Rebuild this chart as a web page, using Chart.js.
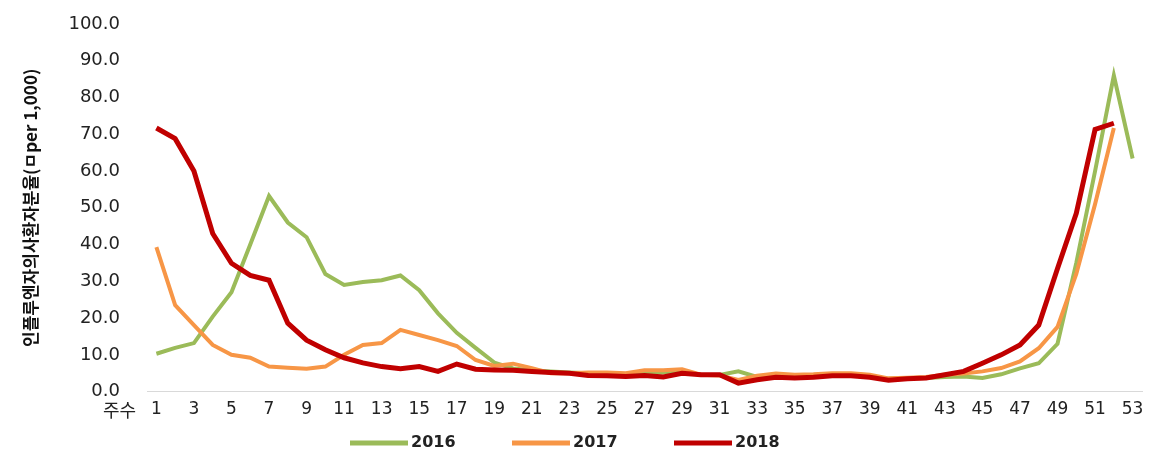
<!DOCTYPE html>
<html>
<head>
<meta charset="utf-8">
<script src="https://cdn.jsdelivr.net/npm/chart.js@4"></script>
<style>
	html, body { margin: 0; padding: 0; background: #fff; }
	#wrap { width: 1164px; height: 453px; }
</style>
</head>
<body>
<div id="wrap"><canvas id="fluChart" width="1164" height="453"></canvas></div>
<script>
// weeks 1..53
const weeks = [];
for (let w = 1; w <= 53; w++) weeks.push(w);

const y2016 = [10.3, 11.9, 13.2, 20.4, 27.0, 40.0, 53.2, 46.0, 42.0, 32.0,
	29.0, 29.8, 30.3, 31.6, 27.6, 21.3, 16.0, 11.9, 7.9, 6.3,
	5.8, 5.5, 5.2, 5.0, 4.9, 4.8, 5.0, 5.2, 5.4, 4.6,
	4.5, 5.5, 4.0, 4.4, 4.2, 4.3, 4.5, 4.4, 4.0, 3.5,
	3.6, 3.7, 4.0, 4.1, 3.7, 4.7, 6.3, 7.7, 13.0, 35.0,
	60.0, 86.0, 63.4];

const y2017 = [39.3, 23.5, 18.1, 12.7, 10.0, 9.2, 6.8, 6.5, 6.2, 6.8,
	10.0, 12.7, 13.2, 16.8, 15.4, 14.0, 12.4, 8.6, 7.0, 7.6,
	6.4, 5.0, 5.0, 5.2, 5.2, 5.0, 5.8, 5.8, 6.1, 4.6,
	4.4, 3.2, 4.3, 4.9, 4.6, 4.7, 5.0, 5.0, 4.6, 3.6,
	3.8, 4.0, 4.6, 4.9, 5.5, 6.4, 8.2, 11.8, 17.6, 32.0,
	51.0, 71.7];

const y2018 = [71.7, 68.8, 60.0, 43.0, 34.9, 31.6, 30.3, 18.6, 14.0, 11.4,
	9.2, 7.8, 6.8, 6.2, 6.8, 5.5, 7.5, 6.1, 5.9, 5.8,
	5.5, 5.2, 5.0, 4.4, 4.3, 4.1, 4.4, 4.0, 5.0, 4.6,
	4.6, 2.3, 3.2, 3.9, 3.7, 3.9, 4.3, 4.3, 3.9, 3.1,
	3.5, 3.7, 4.6, 5.5, 7.7, 10.0, 12.7, 18.1, 33.5, 48.5,
	71.3, 73.0];

const seriesNames = ['2016', '2017', '2018'];
const seriesColors = ['#9bbb59', '#f79646', '#c00000'];

const fontKR = '"Noto Sans CJK KR", "Noto Sans", sans-serif';
const fontNum = '"DejaVu Sans", sans-serif';

// "주수" sits to the left of the first week label
const weekTitle = {
	id: 'weekTitle',
	afterDraw(chart) {
		let ctx = chart.ctx;
		let xs = chart.scales.x;
		ctx.save();
		ctx.font = '18px ' + fontKR;
		ctx.fillStyle = '#222';
		ctx.textAlign = 'right';
		ctx.textBaseline = 'middle';
		ctx.fillText('주수', xs.left - 11, xs.top + 19);
		ctx.restore();
	}
};

// legend row under the axis: long line swatch, bold year right next to it
const lineLegend = {
	id: 'lineLegend',
	afterDraw(chart) {
		let ctx = chart.ctx;
		let x = 350;
		let y = 443;
		ctx.save();
		ctx.font = 'bold 16px ' + fontNum;
		ctx.textBaseline = 'middle';
		ctx.textAlign = 'left';
		chart.data.datasets.forEach(function(ds) {
			ctx.strokeStyle = ds.borderColor;
			ctx.lineWidth = 5;
			ctx.beginPath();
			ctx.moveTo(x, y);
			ctx.lineTo(x + 58, y);
			ctx.stroke();
			ctx.fillStyle = '#222';
			ctx.fillText(ds.label, x + 61, y);
			x += 162;
		});
		ctx.restore();
	}
};

function makeSet(i, values, width, order)
{
	return {
		label: seriesNames[i],
		data: values,
		borderColor: seriesColors[i],
		backgroundColor: seriesColors[i],
		borderWidth: width,
		pointRadius: 0,
		tension: 0,
		fill: false,
		order: order,
	};
}

let ctx = document.getElementById('fluChart').getContext('2d');
new Chart(ctx, {
	type: 'line',
	data: {
		labels: weeks,
		datasets: [
			makeSet(0, y2016, 4, 3),
			makeSet(1, y2017, 4, 2),
			makeSet(2, y2018, 5, 1),
		],
	},
	options: {
		responsive: false,
		animation: false,
		layout: { padding: { left: 0, right: 22, top: 24, bottom: 25 } },
		plugins: {
			tooltip: { enabled: false },
			legend: { display: false },
		},
		scales: {
			x: {
				type: 'category',
				offset: true,
				afterFit: function(scale) {
					scale.paddingLeft = 0;
					scale.paddingRight = 0;
				},
				grid: { display: false, drawTicks: false },
				border: { display: true, color: '#d9d9d9', width: 1 },
				ticks: {
					autoSkip: false,
					maxRotation: 0,
					padding: 8,
					color: '#222',
					font: { family: fontNum, size: 17 },
					callback: function(value, index) {
						let w = weeks[index];
						return (w % 2 === 1) ? String(w) : '';
					},
				},
			},
			y: {
				min: 0,
				max: 100,
				afterFit: function(scale) {
					scale.width = 147;
					scale.paddingTop = 0;
					scale.paddingBottom = 0;
				},
				grid: { display: false, drawTicks: false },
				border: { display: false },
				ticks: {
					stepSize: 10,
					padding: 27,
					color: '#222',
					font: { family: fontNum, size: 18 },
					callback: (v) => v.toFixed(1),
				},
				title: {
					display: true,
					text: '인플루엔자의사환자분율(ㅁper 1,000)',
					color: '#111',
					padding: { top: 20, bottom: 0 },
					font: { family: fontKR, size: 17, weight: 'bold' },
				},
			},
		},
	},
	plugins: [weekTitle, lineLegend],
});
</script>
</body>
</html>
